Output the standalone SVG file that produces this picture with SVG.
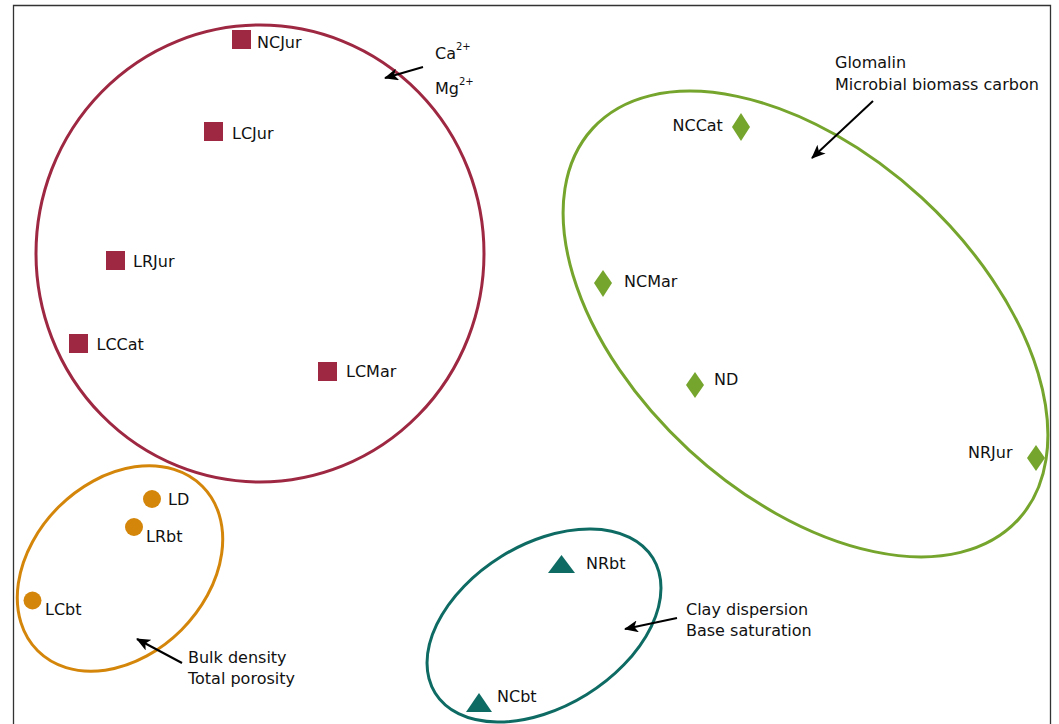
<svg xmlns="http://www.w3.org/2000/svg" width="1059" height="724" viewBox="0 0 1059 724">
<style>
text{font-family:"DejaVu Sans","Liberation Sans",sans-serif;font-size:16px;fill:#111}
.sup{font-size:10px}
.ell{fill:none;stroke-width:3}
.red{fill:#9e2842}
.org{fill:#d4860b}
.teal{fill:#0e6b64}
.grn{fill:#76a52d}
.arr{stroke:#000;stroke-width:2;fill:none;marker-end:url(#ah)}
</style>
<defs>
<marker id="ah" viewBox="0 0 14 12" refX="13" refY="6" markerWidth="14" markerHeight="12" markerUnits="userSpaceOnUse" orient="auto">
<path d="M0,0 L14,6 L0,12 L3.5,6 Z" fill="#000"/>
</marker>
</defs>
<rect x="0" y="0" width="1059" height="724" fill="#fff"/>
<path d="M13.5,740 V5.5 H1050.5 V740" fill="none" stroke="#333" stroke-width="1.3"/>
<g id="groups">
<ellipse id="g-red" class="ell" cx="260" cy="253.5" rx="224" ry="228.5" stroke="#9e2842"/>
<ellipse id="g-green" class="ell" cx="805.5" cy="324" rx="289" ry="171.6" transform="rotate(42.6 805.5 324)" stroke="#76a52d"/>
<ellipse id="g-orange" class="ell" cx="120" cy="568.5" rx="116.4" ry="86.9" transform="rotate(-45 120 568.5)" stroke="#d4860b"/>
<ellipse id="g-teal" class="ell" cx="544" cy="625.5" rx="128.1" ry="81.2" transform="rotate(-31.8 544 625.5)" stroke="#0e6b64"/>
</g>
<g id="NCJur"><rect class="red" x="232" y="30" width="19" height="19"/><text x="257" y="48">NCJur</text></g>
<g id="LCJur"><rect class="red" x="204" y="122" width="19" height="19"/><text x="232" y="139">LCJur</text></g>
<g id="LRJur"><rect class="red" x="106" y="251" width="19" height="19"/><text x="133" y="267">LRJur</text></g>
<g id="LCCat"><rect class="red" x="69" y="334" width="19" height="19"/><text x="96.5" y="350">LCCat</text></g>
<g id="LCMar"><rect class="red" x="318" y="362" width="19" height="19"/><text x="346" y="377">LCMar</text></g>
<g id="LD"><circle class="org" cx="152" cy="499" r="9"/><text x="168" y="505">LD</text></g>
<g id="LRbt"><circle class="org" cx="134" cy="527" r="9"/><text x="146" y="542">LRbt</text></g>
<g id="LCbt"><circle class="org" cx="32.5" cy="600.5" r="9"/><text x="45" y="615">LCbt</text></g>
<g id="NRbt"><polygon class="teal" points="561.5,555 575,573 548,573"/><text x="586" y="569">NRbt</text></g>
<g id="NCbt"><polygon class="teal" points="479,693 492,712 466,712"/><text x="497" y="702">NCbt</text></g>
<g id="NCCat"><polygon class="grn" points="741,113 750,127 741,141 732,127"/><text x="672.5" y="131">NCCat</text></g>
<g id="NCMar"><polygon class="grn" points="603,270 612,283 603,297 594,283"/><text x="624" y="287">NCMar</text></g>
<g id="ND"><polygon class="grn" points="695,372 704,385 695,398 686,385"/><text x="714" y="385">ND</text></g>
<g id="NRJur"><polygon class="grn" points="1036,445 1045,458 1036,471 1027,458"/><text x="968" y="458">NRJur</text></g>
<g id="connectors">
<line class="arr" x1="423" y1="67" x2="385" y2="78"/>
<line class="arr" x1="873" y1="101" x2="812" y2="158"/>
<line class="arr" x1="182" y1="663" x2="137" y2="639"/>
<line class="arr" x1="677" y1="618" x2="625" y2="629"/>
</g>
<g id="labels">
<text x="435" y="59">Ca<tspan class="sup" dy="-9">2+</tspan></text>
<text x="435" y="94">Mg<tspan class="sup" dy="-9">2+</tspan></text>
<text x="835" y="68">Glomalin</text>
<text x="835" y="90">Microbial biomass carbon</text>
<text x="188" y="663">Bulk density</text>
<text x="188" y="684">Total porosity</text>
<text x="686" y="615">Clay dispersion</text>
<text x="686" y="636">Base saturation</text>
</g>
</svg>
